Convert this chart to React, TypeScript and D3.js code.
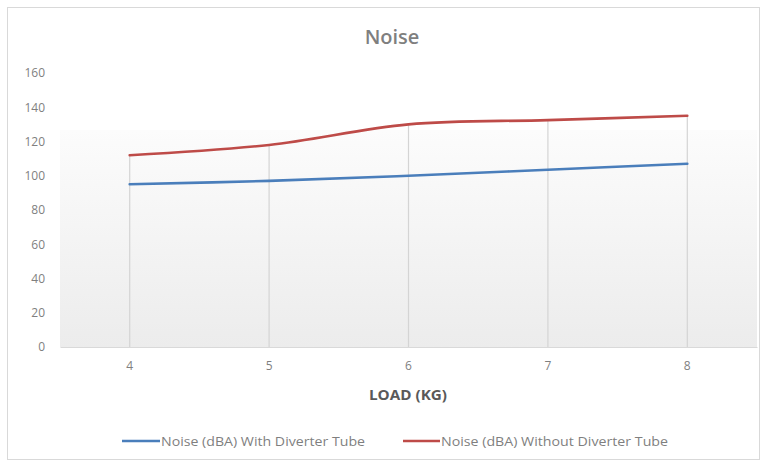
import * as d3 from 'd3';
import { useEffect, useRef } from 'react';

const loads = ['4', '5', '6', '7', '8'];
const withTube = [95, 97, 100, 103.5, 107];
const withoutTube = [112, 118, 130, 132.5, 135];
const yTicks = [0, 20, 40, 60, 80, 100, 120, 140, 160];
const seriesNames = ['Noise (dBA) With Diverter Tube', 'Noise (dBA) Without Diverter Tube'];
const seriesColors = ['#4a7ebb', '#be4b48'];

const FONT = '"Open Sans", "Liberation Sans", sans-serif';

const App = () => {
  const ref = useRef<SVGSVGElement>(null);

  useEffect(() => {
    const svg = d3.select(ref.current);
    svg.selectAll('*').remove();

    const W = 766;
    const H = 466;
    const plot = { left: 60, right: 757, top: 73, bottom: 347 };

    svg.append('rect').attr('width', W).attr('height', H).attr('fill', '#fff');
    svg.append('rect')
      .attr('x', 7.5).attr('y', 7.5).attr('width', 752).attr('height', 452)
      .attr('fill', '#fff').attr('stroke', '#d9d9d9');

    const defs = svg.append('defs');
    const grad = defs.append('linearGradient').attr('id', 'bg').attr('x1', 0).attr('y1', 0).attr('x2', 0).attr('y2', 1);
    grad.append('stop').attr('offset', '0%').attr('stop-color', '#fcfcfc');
    grad.append('stop').attr('offset', '100%').attr('stop-color', '#ececec');

    const x = d3.scaleBand().domain(loads).range([plot.left, plot.right]);
    const y = d3.scaleLinear().domain([0, 160]).range([plot.bottom, plot.top]);
    const cx = (d: string) => x(d)! + x.bandwidth() / 2;

    svg.append('rect')
      .attr('x', plot.left).attr('y', 130)
      .attr('width', plot.right - plot.left).attr('height', plot.bottom - 130)
      .attr('fill', 'url(#bg)');

    // title
    svg.append('text')
      .attr('x', 392).attr('y', 44).attr('text-anchor', 'middle')
      .attr('font-family', FONT).attr('font-size', 20).attr('font-weight', 600)
      .attr('fill', '#7f7f7f').text('Noise');

    // y axis labels
    const yAxis = svg.append('g')
      .attr('transform', `translate(${plot.left},0)`)
      .call(d3.axisLeft(y).tickValues(yTicks).tickSize(0).tickPadding(15));
    yAxis.select('.domain').remove();
    yAxis.selectAll('text')
      .attr('font-family', FONT).attr('font-size', 12).attr('fill', '#7f7f7f');

    // drop lines
    svg.append('g').selectAll('line')
      .data(loads)
      .enter()
      .append('line')
      .attr('x1', d => cx(d)).attr('x2', d => cx(d))
      .attr('y1', (d, i) => y(Math.max(withTube[i], withoutTube[i])))
      .attr('y2', plot.bottom)
      .attr('stroke', '#d4d4d4').attr('stroke-width', 1.2);

    // x axis
    const xAxis = svg.append('g')
      .attr('transform', `translate(0,${plot.bottom})`)
      .call(d3.axisBottom(x).tickSize(0).tickPadding(14));
    xAxis.select('.domain').attr('stroke', '#d9d9d9').attr('stroke-width', 1.2);
    xAxis.selectAll('text')
      .attr('font-family', FONT).attr('font-size', 12).attr('fill', '#7f7f7f');

    svg.append('text')
      .attr('x', 408).attr('y', 400).attr('text-anchor', 'middle')
      .attr('font-family', FONT).attr('font-size', 14).attr('font-weight', 700)
      .attr('fill', '#595959')
      .attr('textLength', 78).attr('lengthAdjust', 'spacingAndGlyphs')
      .text('LOAD (KG)');

    // lines
    const line = d3.line<number>()
      .x((d, i) => cx(loads[i]))
      .y(d => y(d))
      .curve(d3.curveCatmullRom.alpha(0.5));

    [withTube, withoutTube].forEach((vals, k) => {
      svg.append('path')
        .attr('d', line(vals)!)
        .attr('fill', 'none')
        .attr('stroke', seriesColors[k])
        .attr('stroke-width', 2.6)
        .attr('stroke-linecap', 'round');
    });

    // legend
    const legendPos = [
      { x1: 122, x2: 160, tx: 161, w: 204 },
      { x1: 403, x2: 440, tx: 441, w: 227 },
    ];
    const legend = svg.append('g');
    seriesNames.forEach((name, k) => {
      const p = legendPos[k];
      legend.append('line')
        .attr('x1', p.x1).attr('x2', p.x2).attr('y1', 441).attr('y2', 441)
        .attr('stroke', seriesColors[k]).attr('stroke-width', 2.6);
      legend.append('text')
        .attr('x', p.tx).attr('y', 445.5)
        .attr('font-family', FONT).attr('font-size', 12).attr('fill', '#7f7f7f')
        .attr('textLength', p.w).attr('lengthAdjust', 'spacingAndGlyphs')
        .text(name);
    });
  }, []);

  return <svg ref={ref} width={766} height={466} style={{ position: 'absolute', left: 0, top: 0 }} />;
};

export default App;
